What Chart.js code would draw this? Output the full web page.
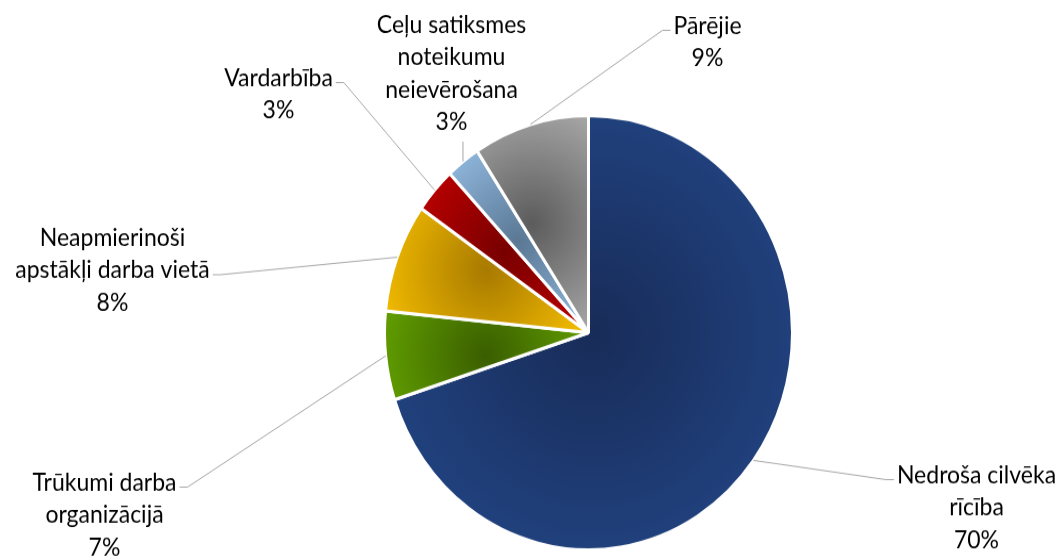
<!DOCTYPE html>
<html>
<head>
<meta charset="utf-8">
<script src="https://cdn.jsdelivr.net/npm/chart.js@4.4.1/dist/chart.umd.min.js"></script>
<style>
  html { margin: 0; padding: 0; overflow: hidden; }
  body { margin: 0; padding: 0; background: #fff; height: 560px; }
  /* the reference pie is slightly taller than wide, so the whole drawing is stretched vertically */
  #wrap { width: 1061px; height: 526px; transform: scale(1, 1.0646); transform-origin: 0 0; }
</style>
</head>
<body>
<div id="wrap"><canvas id="chart" width="1061" height="526"></canvas></div>
<script>
const categories = [
    ['Nedroša cilvēka', 'rīcība'],
    ['Trūkumi darba', 'organizācijā'],
    ['Neapmierinoši', 'apstākļi darba vietā'],
    ['Vardarbība'],
    ['Ceļu satiksmes', 'noteikumu', 'neievērošana'],
    ['Pārējie']
];
const shares = [70.0, 6.6, 8.1, 3.4, 2.7, 9.2];

// Slice colours: light at the rim, dark in the middle of each wedge
const edgeColors = ['#24498c', '#62a000', '#f7c000', '#c20000', '#95bde4', '#a8a8a8'];
const coreColors = ['#182c58', '#3a5e00', '#a87a00', '#780000', '#5a7894', '#5c5c5c'];

// Label blocks relative to the pie centre (first baseline), and where the leader attaches
const labelLayout = [
    { dx: 388, dy: 141, side: 'left', line: 0 },
    { dx: -484, dy: 148, side: 'right', line: 0 },
    { dx: -476, dy: -82, side: 'right', line: 1 },
    { dx: -310, dy: -232, side: 'right', line: 0 },
    { dx: -137, dy: -282, side: 'bottom', line: 0 },
    { dx: 119, dy: -281, side: 'left', line: 0 }
];
const lineGap = 30.5;

function sliceFill(c) {
    const chart = c.chart;
    const area = chart.chartArea;
    const i = c.dataIndex;
    if (c.type !== 'data' || !area) return edgeColors[i];
    const data = c.dataset.data;
    const total = data.reduce((a, b) => a + b, 0);
    let before = 0;
    for (let k = 0; k < i; k++) before += data[k];
    const a0 = -Math.PI / 2 + before / total * Math.PI * 2;
    const a1 = a0 + data[i] / total * Math.PI * 2;
    const cx = (area.left + area.right) / 2;
    const cy = (area.top + area.bottom) / 2;
    const r = Math.min(area.width, area.height) / 2;

    // bounding box of the wedge (unit circle), gradient sits in its middle
    const xs = [0, Math.cos(a0), Math.cos(a1)];
    const ys = [0, Math.sin(a0), Math.sin(a1)];
    for (let q = -1; q <= 3; q++) {
        const a = q * Math.PI / 2;
        if (a >= a0 && a <= a1) { xs.push(Math.cos(a)); ys.push(Math.sin(a)); }
    }
    const minX = Math.min(...xs), maxX = Math.max(...xs);
    const minY = Math.min(...ys), maxY = Math.max(...ys);
    const gx = cx + r * (minX + maxX) / 2;
    const gy = cy + r * (minY + maxY) / 2;
    const gr = r * Math.hypot(maxX - minX, maxY - minY) / 2;
    const g = chart.ctx.createRadialGradient(gx, gy, 0, gx, gy, gr);
    g.addColorStop(0, coreColors[i]);
    g.addColorStop(1, edgeColors[i]);
    return g;
}

const calloutPlugin = {
    id: 'callouts',
    afterDatasetsDraw(chart) {
        const meta = chart.getDatasetMeta(0);
        const data = chart.data.datasets[0].data;
        const total = data.reduce((a, b) => a + b, 0);
        const ctx = chart.ctx;
        ctx.save();
        ctx.font = '23px Lato';
        ctx.fillStyle = '#000000';
        ctx.textAlign = 'center';
        ctx.textBaseline = 'alphabetic';
        ctx.strokeStyle = '#a6a6a6';
        ctx.lineWidth = 1;

        meta.data.forEach((arc, i) => {
            const p = arc.getProps(['x', 'y', 'startAngle', 'endAngle', 'outerRadius'], true);
            const mid = (p.startAngle + p.endAngle) / 2;
            const px = p.x + p.outerRadius * Math.cos(mid);
            const py = p.y + p.outerRadius * Math.sin(mid);

            const spot = labelLayout[i];
            const lines = categories[i].concat(Math.round(data[i] / total * 100) + '%');
            const lx = p.x + spot.dx;
            const base = p.y + spot.dy;
            lines.forEach((t, k) => ctx.fillText(t, lx, base + k * lineGap));

            ctx.beginPath();
            ctx.moveTo(px, py);
            if (spot.side === 'bottom') {
                ctx.lineTo(px, base + (lines.length - 1) * lineGap + 11);
            } else {
                const w = ctx.measureText(lines[spot.line]).width;
                const ey = base + spot.line * lineGap - 3;
                const ex = spot.side === 'left' ? lx - w / 2 - 3 : lx + w / 2 + 3;
                const bx = spot.side === 'left' ? ex - 8 : ex + 8;
                ctx.lineTo(bx, ey);
                ctx.lineTo(ex, ey);
            }
            ctx.stroke();
        });
        ctx.restore();
    }
};

new Chart(document.getElementById('chart'), {
    type: 'pie',
    data: {
        labels: categories,
        datasets: [{
            data: shares,
            backgroundColor: sliceFill,
            borderColor: '#ffffff',
            borderWidth: 3
        }]
    },
    options: {
        responsive: false,
        devicePixelRatio: 1,
        animation: false,
        events: [],
        layout: { padding: { left: 383, right: 267, top: 107, bottom: 8 } },
        plugins: {
            legend: { display: false },
            tooltip: { enabled: false }
        }
    },
    plugins: [calloutPlugin]
});
</script>
</body>
</html>
